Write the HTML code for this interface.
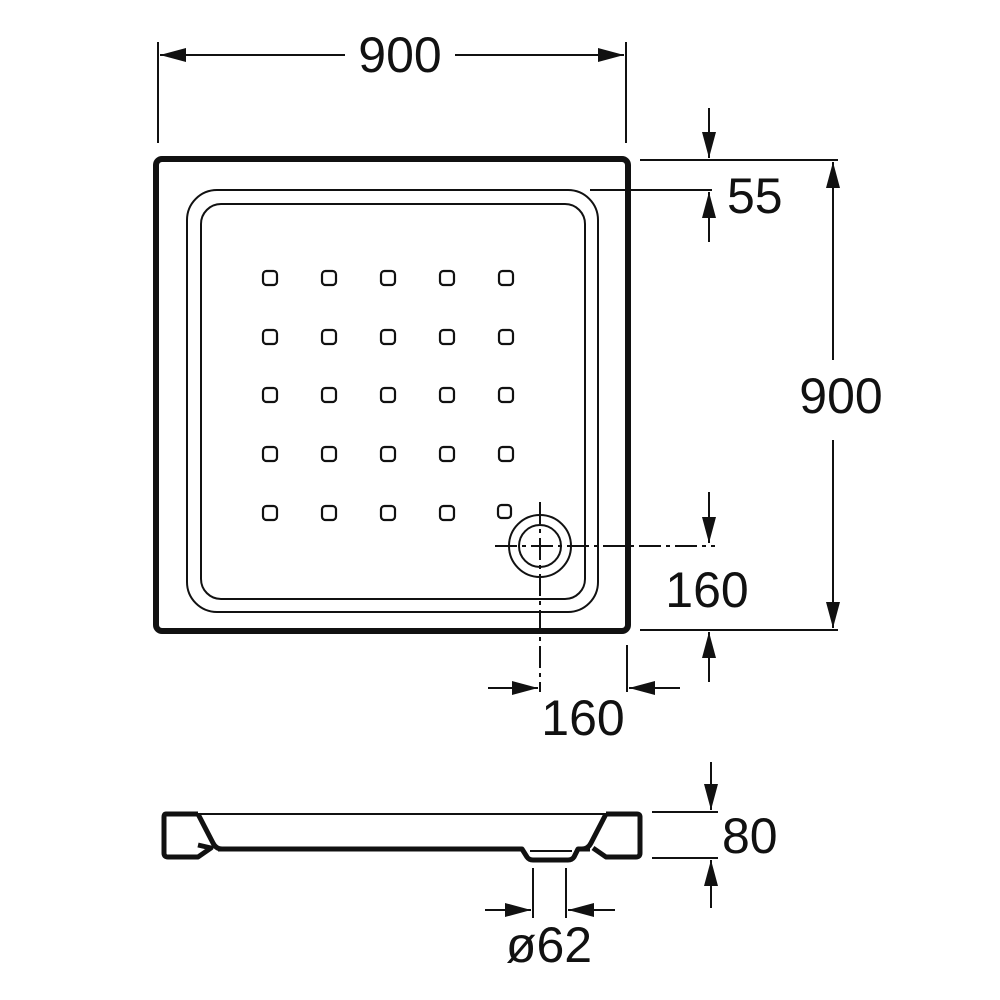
<!DOCTYPE html>
<html><head><style>html,body{margin:0;padding:0;background:#fff}svg{display:block}</style></head>
<body>
<svg width="1000" height="1000" viewBox="0 0 1000 1000" xmlns="http://www.w3.org/2000/svg" font-family="Liberation Sans, Arial, sans-serif">
<defs>
<marker id="a" viewBox="0 0 26 14" refX="26" refY="7" markerWidth="26" markerHeight="14" markerUnits="userSpaceOnUse" orient="auto"><path d="M0,0 L26,7 L0,14 Z" fill="#111"/></marker>
</defs>
<g stroke="#111" fill="none">
<rect x="156" y="159" width="472" height="472" rx="6" stroke-width="6"/>
<rect x="187" y="190" width="411" height="422" rx="30" stroke-width="2"/>
<rect x="201" y="204" width="384" height="395" rx="20" stroke-width="2"/>
<g stroke-width="2.2">
<rect x="263" y="271" width="14" height="14" rx="3.5"/><rect x="322" y="271" width="14" height="14" rx="3.5"/><rect x="381" y="271" width="14" height="14" rx="3.5"/><rect x="440" y="271" width="14" height="14" rx="3.5"/><rect x="499" y="271" width="14" height="14" rx="3.5"/>
<rect x="263" y="330" width="14" height="14" rx="3.5"/><rect x="322" y="330" width="14" height="14" rx="3.5"/><rect x="381" y="330" width="14" height="14" rx="3.5"/><rect x="440" y="330" width="14" height="14" rx="3.5"/><rect x="499" y="330" width="14" height="14" rx="3.5"/>
<rect x="263" y="388" width="14" height="14" rx="3.5"/><rect x="322" y="388" width="14" height="14" rx="3.5"/><rect x="381" y="388" width="14" height="14" rx="3.5"/><rect x="440" y="388" width="14" height="14" rx="3.5"/><rect x="499" y="388" width="14" height="14" rx="3.5"/>
<rect x="263" y="447" width="14" height="14" rx="3.5"/><rect x="322" y="447" width="14" height="14" rx="3.5"/><rect x="381" y="447" width="14" height="14" rx="3.5"/><rect x="440" y="447" width="14" height="14" rx="3.5"/><rect x="499" y="447" width="14" height="14" rx="3.5"/>
<rect x="263" y="506" width="14" height="14" rx="3.5"/><rect x="322" y="506" width="14" height="14" rx="3.5"/><rect x="381" y="506" width="14" height="14" rx="3.5"/><rect x="440" y="506" width="14" height="14" rx="3.5"/>
<rect x="498" y="505" width="13" height="13" rx="3.5"/>
</g>
<circle cx="540" cy="546" r="31" fill="#fff" stroke-width="2"/>
<circle cx="540" cy="546" r="21" stroke-width="2"/>
<line x1="495" y1="546" x2="715" y2="546" stroke-width="2" stroke-dasharray="22,5,4,5"/>
<line x1="540" y1="502" x2="540" y2="692" stroke-width="2" stroke-dasharray="22,5,4,5"/>
<g stroke-width="2">
<line x1="158" y1="42" x2="158" y2="143"/><line x1="626" y1="42" x2="626" y2="143"/>
<line x1="345" y1="55" x2="160" y2="55" marker-end="url(#a)"/><line x1="455" y1="55" x2="624" y2="55" marker-end="url(#a)"/>
<line x1="640" y1="160" x2="838" y2="160"/><line x1="640" y1="630" x2="838" y2="630"/>
<line x1="833" y1="360" x2="833" y2="162" marker-end="url(#a)"/><line x1="833" y1="440" x2="833" y2="628" marker-end="url(#a)"/>
<line x1="590" y1="190" x2="712" y2="190"/>
<line x1="709" y1="108" x2="709" y2="158" marker-end="url(#a)"/><line x1="709" y1="242" x2="709" y2="192" marker-end="url(#a)"/>
<line x1="709" y1="492" x2="709" y2="543" marker-end="url(#a)"/><line x1="709" y1="682" x2="709" y2="632" marker-end="url(#a)"/>
<line x1="627" y1="645" x2="627" y2="692"/>
<line x1="488" y1="688" x2="538" y2="688" marker-end="url(#a)"/><line x1="680" y1="688" x2="629" y2="688" marker-end="url(#a)"/>
<line x1="652" y1="812" x2="718" y2="812"/><line x1="652" y1="858" x2="718" y2="858"/>
<line x1="711" y1="762" x2="711" y2="810" marker-end="url(#a)"/><line x1="711" y1="908" x2="711" y2="860" marker-end="url(#a)"/>
<line x1="533" y1="868" x2="533" y2="918"/><line x1="566" y1="868" x2="566" y2="918"/>
<line x1="485" y1="910" x2="531" y2="910" marker-end="url(#a)"/><line x1="615" y1="910" x2="568" y2="910" marker-end="url(#a)"/>
</g>
<line x1="198" y1="814" x2="606" y2="814" stroke-width="2"/>
<path d="M198,814 L166,814 Q164,814 164,817 L164,853 Q164,857 168,857 L198,857 L211,848 L198,845 L198,845 M198,814 L213,843 Q216,849 222,849" stroke-width="5" stroke-linejoin="round"/>
<path d="M606,814 L637,814 Q640,814 640,817 L640,853 Q640,857 636,857 L606,857 L593,848 M606,814 L591,843 Q588,849 582,849" stroke-width="5" stroke-linejoin="round"/>
<path d="M218,849 L522,849 L527,857 Q529,860 533,860 L568,860 Q572,860 574,857 L578,849 L590,849" stroke-width="5" stroke-linejoin="round"/>
<line x1="530" y1="851" x2="572" y2="851" stroke-width="2"/>
</g>
<g fill="#111" font-size="50">
<text x="400" y="72" text-anchor="middle">900</text>
<text x="841" y="413" text-anchor="middle">900</text>
<text x="727" y="213">55</text>
<text x="707" y="607" text-anchor="middle">160</text>
<text x="583" y="735" text-anchor="middle">160</text>
<text x="722" y="853">80</text>
<text x="549" y="962" text-anchor="middle">ø62</text>
</g>
</svg>
</body></html>
